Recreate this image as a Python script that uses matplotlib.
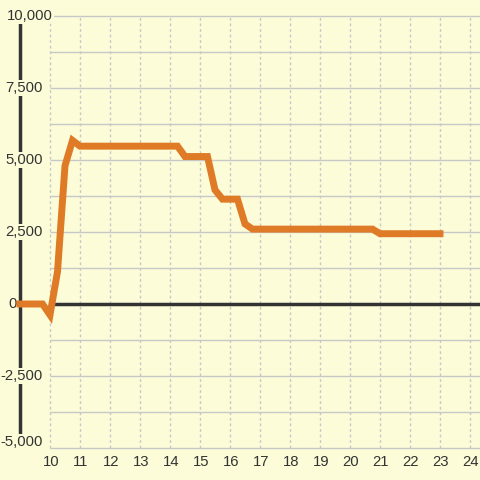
import numpy as np
import matplotlib.pyplot as plt

plt.rcParams['font.family'] = ['Liberation Sans', 'DejaVu Sans']

# data: time of day (hours) and value
hours = [9.0, 9.75, 10.0, 10.25, 10.5, 10.75, 11.0, 14.25, 14.5, 15.25, 15.5,
         15.75, 16.25, 16.5, 16.75, 20.75, 21.0, 23.0]
values = [0, 0, -380, 1120, 4800, 5680, 5480, 5480, 5120, 5120, 3960,
          3640, 3640, 2780, 2600, 2600, 2440, 2440]

x_ticks = list(range(10, 25))
y_ticks = [-5000, -2500, 0, 2500, 5000, 7500, 10000]
y_grid = np.arange(-5000, 10001, 1250)

bg = '#fcfcd8'
grid_c = '#c8c8c8'
dark = '#333333'
orange = '#df7b26'

fig = plt.figure(figsize=(4.8, 4.8), dpi=100, facecolor=bg)
ax = fig.add_axes([0, 0, 1, 1])
ax.set_facecolor(bg)
ax.axis('off')

px_x = 1 / 30.0
px_y = 15000 / 432.0
xmin = 9 - 20 * px_x
xmax = xmin + 480 * px_x
ymax = 10000 + 16 * px_y
ax.set_xlim(xmin, xmax)
ax.set_ylim(ymax - 480 * px_y, ymax)

# grid
ax.hlines(y_grid, 10, xmax, color=grid_c, lw=1, zorder=1)
ax.vlines(x_ticks, -5000, 10000, color=grid_c, lw=1, linestyles=(0, (2, 2)), zorder=1)

# zero line and y axis line
ax.hlines(0, 10, xmax, color=dark, lw=2.5, zorder=2)
ax.vlines(9, -5000, 10000, color=dark, lw=2.5, zorder=2)

# y labels (the outer ones get pushed inside the canvas)
for t in y_ticks:
    x, ha, y = xmin + 43 * px_x, 'right', t
    if t == 10000:
        x, ha = xmin + 7 * px_x, 'left'
    elif t == 0:
        x = xmin + 16.5 * px_x
    elif t == -5000:
        y = t + 6 * px_y
    ax.text(x, y, f'{t:,}', ha=ha, va='center', fontsize=10.7, color=dark,
            zorder=3, bbox=dict(facecolor=bg, edgecolor='none', pad=0.5))
for t in x_ticks:
    ax.text(t + 0.03, 10000 - 446 * px_y, str(t), ha='center', va='center',
            fontsize=10.7, color=dark, zorder=3)

ax.plot(hours, values, color=orange, lw=5, solid_capstyle='projecting',
        solid_joinstyle='miter', zorder=4)

fig.savefig('out.png', dpi=100, facecolor=bg)
